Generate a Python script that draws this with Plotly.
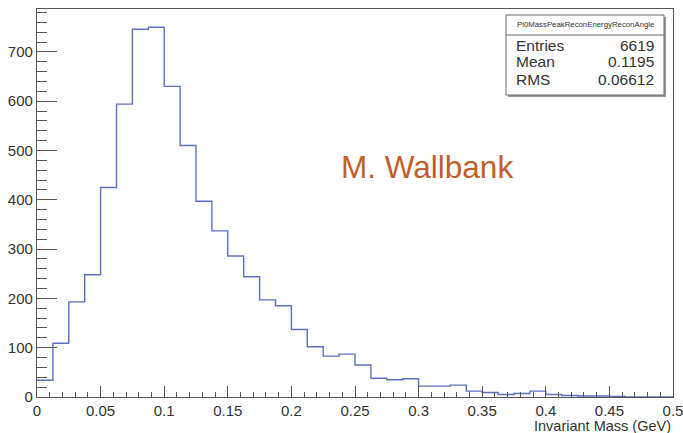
import plotly.graph_objects as go

# Histogram: 40 bins over 0..0.5 GeV
bin_width = 0.0125
counts = [34, 109, 193, 248, 425, 594, 746, 750, 630, 510,
          397, 337, 286, 244, 197, 185, 137, 102, 83, 87,
          65, 38, 35, 37, 22, 22, 24, 12, 9, 5,
          7, 12, 5, 3, 2, 2, 1, 0, 0, 0]
edges = [i * bin_width for i in range(len(counts) + 1)]
y_ticks = [0, 100, 200, 300, 400, 500, 600, 700]
x_ticks = [0, 0.05, 0.1, 0.15, 0.2, 0.25, 0.3, 0.35, 0.4, 0.45, 0.5]
x_tick_labels = ["0", "0.05", "0.1", "0.15", "0.2", "0.25", "0.3", "0.35", "0.4", "0.45", "0.5"]
stats_title = "Pi0MassPeakReconEnergyReconAngle"
stats_names = ["Entries", "Mean", "RMS"]
stats_values = ["6619", "0.1195", "0.06612"]

W, H = 683, 433
L, R, T, B = 37, 10, 9, 36
pw, ph = W - L - R, H - T - B

def px(x):
    return (x - L) / pw

def py(y):
    return 1 - (y - T) / ph

font = "Liberation Sans, Arial, sans-serif"
txt = "#333333"

fig = go.Figure()
fig.add_trace(go.Scatter(
    x=edges, y=counts + [counts[-1]], mode="lines",
    line=dict(color="#5d70c0", width=1.4, shape="hv"),
    hoverinfo="skip", showlegend=False))

fig.update_layout(
    width=W, height=H, margin=dict(l=L, r=R, t=T, b=B, autoexpand=False),
    paper_bgcolor="white", plot_bgcolor="white",
    font=dict(family=font, color=txt, size=15),
    xaxis=dict(range=[0, 0.5000001], tickvals=x_ticks, ticktext=x_tick_labels, automargin=False,
               ticklabeloverflow="allow", ticklabelstandoff=0,
               ticks="inside", ticklen=11, tickcolor="#555", showgrid=False,
               zeroline=False, showline=True, linecolor="#555", linewidth=1.2, mirror=True,
               minor=dict(dtick=0.01, ticks="inside", ticklen=5, tickcolor="#555"),
               tickfont=dict(size=15, color=txt)),
    yaxis=dict(range=[0, 787], tickvals=y_ticks, automargin=False,
               ticks="inside", ticklen=20, tickcolor="#555", showgrid=False,
               zeroline=False, showline=True, linecolor="#555", linewidth=1.2, mirror=True,
               minor=dict(dtick=20, ticks="inside", ticklen=10, tickcolor="#555"),
               tickfont=dict(size=15, color=txt)),
)

# x axis title at right
fig.add_annotation(xref="paper", yref="paper", x=1.0, y=py(426), text="Invariant Mass (GeV)",
                   showarrow=False, xanchor="right", yanchor="middle",
                   font=dict(size=14.5, color=txt))

# stats box with shadow
bx0, bx1, by0, by1, bdiv = 506, 664, 15, 95, 35
fig.add_shape(type="rect", xref="paper", yref="paper",
              x0=px(bx0 + 2), x1=px(bx1 + 2), y0=py(by1 + 2), y1=py(by0 + 2),
              line=dict(width=0), fillcolor="#9a9a9a")
fig.add_shape(type="rect", xref="paper", yref="paper",
              x0=px(bx0), x1=px(bx1), y0=py(by1), y1=py(by0),
              line=dict(color="#666", width=1), fillcolor="white")
fig.add_shape(type="line", xref="paper", yref="paper",
              x0=px(bx0), x1=px(bx1), y0=py(bdiv), y1=py(bdiv),
              line=dict(color="#666", width=1))
fig.add_annotation(xref="paper", yref="paper", x=px((bx0 + bx1) / 2), y=py(25),
                   text=stats_title, showarrow=False, xanchor="center", yanchor="middle",
                   font=dict(size=7.8, color=txt))
rows_y = [45, 62, 79]
for name, val, yy in zip(stats_names, stats_values, rows_y):
    fig.add_annotation(xref="paper", yref="paper", x=px(514), y=py(yy), text=name,
                       showarrow=False, xanchor="left", yanchor="middle",
                       font=dict(size=15.5, color=txt))
    fig.add_annotation(xref="paper", yref="paper", x=px(656), y=py(yy), text=val,
                       showarrow=False, xanchor="right", yanchor="middle",
                       font=dict(size=15.5, color=txt))

# author text
fig.add_annotation(xref="paper", yref="paper", x=px(427), y=py(167), text="M. Wallbank",
                   showarrow=False, xanchor="center", yanchor="middle",
                   font=dict(size=31.5, color="#c25e2a"))

fig.write_html("out.html")
